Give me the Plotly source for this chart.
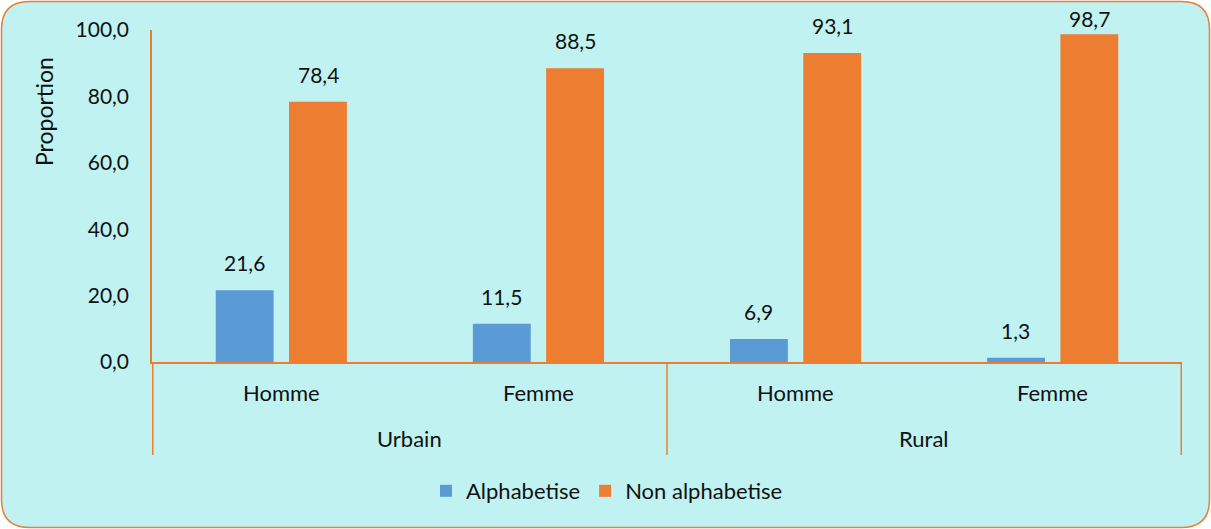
import plotly.graph_objects as go

# Survey data: literacy by area and sex (%)
zones = ["Urbain", "Urbain", "Rural", "Rural"]
sexes = ["Homme", "Femme", "Homme", "Femme"]
alphabetise = [21.6, 11.5, 6.9, 1.3]
non_alphabetise = [78.4, 88.5, 93.1, 98.7]
y_ticks = [0, 20, 40, 60, 80, 100]

BLUE = "#5B9BD5"
ORANGE = "#ED7D31"
BG = "rgb(192,242,242)"
TXT = "#111111"
FONT = "Lato"
FS = 21
FS_CAT = 22

W, H = 1211, 529
ML, MR, MT, MB = 152, 29, 30, 167
PW, PH = W - ML - MR, H - MT - MB
Y_MAX = 100
BARGAP, GROUPGAP = 0.43, 0.21


def py(page_y):
    """Page pixel row -> paper y fraction."""
    return ((H - MB) - page_y) / PH


fig = go.Figure()
for name, vals, col in [("Alphabetise", alphabetise, BLUE),
                        ("Non alphabetise", non_alphabetise, ORANGE)]:
    fig.add_trace(go.Bar(
        name=name, x=[zones, sexes], y=vals,
        marker=dict(color=col, line=dict(width=0)),
    ))

# Value labels above each bar (comma decimal), kept inside the frame at the top
slot = (1 - BARGAP) * (PW / len(sexes)) / 2
for k, vals in enumerate([alphabetise, non_alphabetise]):
    for i, v in enumerate(vals):
        top_px = MT + (Y_MAX - v) * PH / Y_MAX
        gap = min(19, top_px - 27)
        fig.add_annotation(
            x=i, y=v, xref="x", yref="y",
            text=f"{v:.1f}".replace(".", ","), showarrow=False,
            xanchor="center", yanchor="bottom",
            xshift=(k - 0.5) * slot, yshift=gap - 6,
            font=dict(family=FONT, size=FS, color=TXT),
        )

# Two-level category labels under the axis
for i, s in enumerate(sexes):
    fig.add_annotation(
        x=i, y=py(392), xref="x", yref="paper", text=s, showarrow=False,
        xanchor="center", yanchor="middle",
        font=dict(family=FONT, size=FS_CAT, color=TXT),
    )
groups = []
for i, z in enumerate(zones):
    if groups and groups[-1][0] == z:
        groups[-1][2] = i
    else:
        groups.append([z, i, i])
for z, a, b in groups:
    fig.add_annotation(
        x=(a + b) / 2, y=py(438), xref="x", yref="paper", text=z,
        showarrow=False, xanchor="center", yanchor="middle",
        font=dict(family=FONT, size=FS_CAT, color=TXT),
    )
bounds = [groups[0][1] - 0.5] + [g[2] + 0.5 for g in groups]
for bx in bounds:
    fig.add_shape(
        type="line", xref="x", yref="paper", x0=bx, x1=bx, y0=0, y1=py(455),
        line=dict(color=ORANGE, width=1.5),
    )

# Rounded frame around the whole chart, drawn in pixels from the plot origin
x0, x1 = 1.5 - ML, (W - 1.5) - ML
yt, yb = (H - MB) - 1.5, (H - MB) - (H - 1.5)
r = 28
frame = (
    f"M {x0 + r} {yt} L {x1 - r} {yt} Q {x1} {yt} {x1} {yt - r} "
    f"L {x1} {yb + r} Q {x1} {yb} {x1 - r} {yb} "
    f"L {x0 + r} {yb} Q {x0} {yb} {x0} {yb + r} "
    f"L {x0} {yt - r} Q {x0} {yt} {x0 + r} {yt} Z"
)
fig.add_shape(
    type="path", path=frame, xref="paper", yref="paper",
    xsizemode="pixel", ysizemode="pixel", xanchor=0, yanchor=0,
    fillcolor=BG, line=dict(color=ORANGE, width=1.5), layer="below",
)

fig.add_annotation(
    text="Proportion", textangle=-90, showarrow=False,
    xref="paper", yref="paper",
    x=(44 - ML) / PW, y=py(112),
    xanchor="center", yanchor="middle",
    font=dict(family=FONT, size=23, color=TXT),
)

fig.update_layout(
    width=W, height=H,
    margin=dict(l=ML, r=MR, t=MT, b=MB, pad=0),
    paper_bgcolor="white", plot_bgcolor="rgba(0,0,0,0)",
    separators=", ",
    barmode="group", bargap=BARGAP, bargroupgap=GROUPGAP,
    font=dict(family=FONT, size=FS, color=TXT),
    showlegend=True,
    legend=dict(
        orientation="h", x=(607 - ML) / PW, xanchor="center",
        y=py(491), yanchor="middle",
        font=dict(family=FONT, size=FS_CAT, color=TXT),
        bgcolor="rgba(0,0,0,0)", itemwidth=30,
    ),
    xaxis=dict(
        type="multicategory", showline=True, linecolor=ORANGE, linewidth=2,
        ticks="", showgrid=False, showticklabels=False, showdividers=False,
    ),
    yaxis=dict(
        range=[0, Y_MAX], tickvals=y_ticks, tickformat=".1f",
        showline=True, linecolor=ORANGE, linewidth=1.5,
        showgrid=False, zeroline=False, ticks="",
        ticklabelstandoff=17,
        tickfont=dict(family=FONT, size=FS, color=TXT),
    ),
)

fig.write_html("out.html")
